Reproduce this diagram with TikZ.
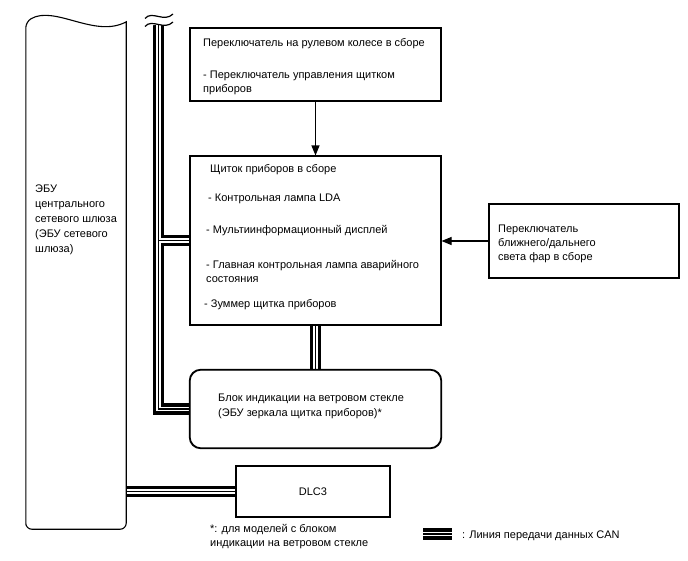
\documentclass[tikz,border=0pt]{standalone}
\usepackage{fontspec}
\setmainfont{Liberation Sans}
\usetikzlibrary{calc,arrows.meta}
\tikzset{
  boxline/.style={draw=black, line width=1.1pt},
  box/.style={boxline, inner sep=0pt, fill=white},
  txt/.style={anchor=base west, inner sep=0pt},
  busblack/.style={line width=11.5pt, black, line join=miter},
  buswhite/.style={line width=4.6pt, white, line join=miter},
  buscenter/.style={line width=1.1pt, black, line join=miter},
  arr/.style={line width=1.1pt, -{Triangle[length=10pt,width=8pt]}},
}
\newcommand\mybuses[1]{%
  \draw[#1] (bt) -- (bt |- hud.west) -- (hud.west);
  \draw[#1] (bt |- meter.west) -- (meter.west);
  \draw[#1] (ecu.east |- dlc.west) -- (dlc.west);
  \draw[#1] (meter.south) -- (hud.north);
  \draw[#1] (lg1) -- (lg2);
}
\begin{document}
\begin{tikzpicture}[x=1pt,y=-1pt,font=\fontsize{11}{14}\selectfont]
\useasboundingbox[fill=white] (0,0) rectangle (688,560);

% node frames
\node[inner sep=0pt, minimum width=100pt, minimum height=507pt] (ecu) at (76,275.5) {};
\node[box, minimum width=251pt, minimum height=73pt] (sw) at (315.5,64.5) {};
\node[box, minimum width=251pt, minimum height=169pt] (meter) at (315.5,240.5) {};
\node[box, minimum width=190pt, minimum height=74pt] (hb) at (584,241) {};
\node[box, rounded corners=11pt, minimum width=251pt, minimum height=78pt] (hud) at (315.5,409) {};
\node[box, minimum width=154pt, minimum height=51pt] (dlc) at (313,491.5) {};

\coordinate (bt) at (158.5,24);
\coordinate (lg1) at (423,534);
\coordinate (lg2) at (452,534);

% CAN buses
\mybuses{busblack}
\mybuses{buswhite}
\mybuses{buscenter}

% redraw box borders on top
\foreach \n in {sw,meter,dlc,hb} {\draw[boxline] (\n.north west) rectangle (\n.south east);}
\draw[boxline, rounded corners=11pt] (hud.north west) rectangle (hud.south east);

% ECU outline with wavy top
\draw[boxline] (ecu.north west) .. controls +(29,-17) and +(-31,17) .. (ecu.north east)
  -- ($(ecu.south east)+(0,-10)$) [rounded corners=6pt] -- (ecu.south east) -- (ecu.south west)
  -- ($(ecu.south west)+(0,-10)$) -- cycle;

% break marks
\draw[line width=1.2pt] (145,18.5) .. controls (152,10) and (164,23) .. (173,14);
\draw[line width=1.2pt, fill=white] (145,26.5) .. controls (152,18) and (164,31) .. (173,22);

% arrows
\draw[arr] (sw.south) -- (meter.north);
\draw[arr] (hb.west) -- (meter.east |- hb.west);

% texts
\node[txt] (e1) at (35,192) {ЭБУ};
\node[txt] (e2) at (35,207) {центрального};
\node[txt] (e3) at (35,222) {сетевого шлюза};
\node[txt] (e4) at (35,237) {(ЭБУ сетевого};
\node[txt] (e5) at (35,252) {шлюза)};

\node[txt] (s1) at (203,46) {Переключатель на рулевом колесе в сборе};
\node[txt] (s2) at (203,78) {- Переключатель управления щитком};
\node[txt] (s3) at (203,92) {приборов};

\node[txt] (m1) at (210,172) {Щиток приборов в сборе};
\node[txt] (m2) at (208,201) {- Контрольная лампа LDA};
\node[txt] (m3) at (206,233) {- Мультиинформационный дисплей};
\node[txt] (m4) at (206,268) {- Главная контрольная лампа аварийного};
\node[txt] (m5) at (206,282) {состояния};
\node[txt] (m6) at (204,307) {- Зуммер щитка приборов};

\node[txt] (h1) at (498,232) {Переключатель};
\node[txt] (h2) at (498,246) {ближнего/дальнего};
\node[txt] (h3) at (498,260) {света фар в сборе};

\node[txt] (u1) at (218,401) {Блок индикации на ветровом стекле};
\node[txt] (u2) at (218,416) {(ЭБУ зеркала щитка приборов)*};

\node[anchor=base, inner sep=0pt] (d1) at ($(dlc.center)+(0,4)$) {DLC3};

\node[txt] (f1) at (210,532) {*: для моделей с блоком};
\node[txt] (f2) at (210,546) {индикации на ветровом стекле};

\node[txt] (l1) at (462,538) {: Линия передачи данных CAN};
\end{tikzpicture}
\end{document}
